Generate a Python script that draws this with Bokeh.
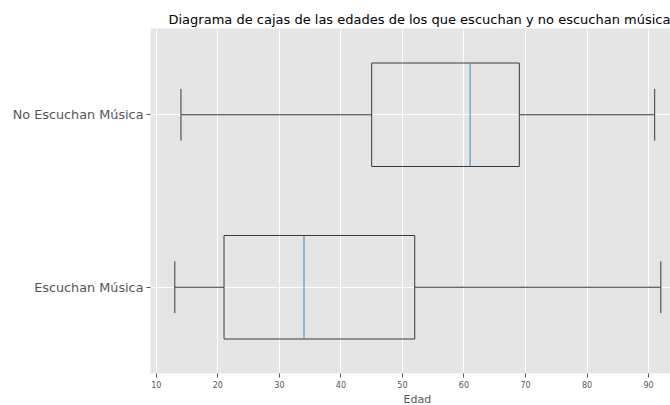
from bokeh.plotting import figure
from bokeh.models import FixedTicker, Title, Range1d
from bokeh.embed import file_html
from bokeh.resources import INLINE

# Age distributions summarised as box plot statistics
groups = ["Escuchan Música", "No Escuchan Música"]
positions = [1, 2]
whisker_low = [13, 14]
q1 = [21, 45]
median = [34, 61]
q3 = [52, 69]
whisker_high = [92, 91]

x_ticks = [10, 20, 30, 40, 50, 60, 70, 80, 90]

FONT = "DejaVu Sans"
BOX_W = 0.6
CAP_W = 0.3
LINE = "#3a3a3a"

p = figure(width=670, height=405, output_backend="svg", toolbar_location=None,
           x_range=Range1d(9.05, 93.57), y_range=Range1d(0.5, 2.5),
           min_border_left=150, min_border_right=0,
           min_border_top=28, min_border_bottom=30)
p.background_fill_color = "#E5E5E5"
p.border_fill_color = "white"
p.outline_line_color = None

# boxes
p.hbar(y=positions, left=q1, right=q3, height=BOX_W,
       fill_color=None, line_color=LINE, line_width=1)
# medians
p.segment(x0=median, x1=median,
          y0=[y - BOX_W / 2 for y in positions], y1=[y + BOX_W / 2 for y in positions],
          line_color="#348ABD", line_width=1)
# whiskers
p.segment(x0=whisker_low, x1=q1, y0=positions, y1=positions,
          line_color=LINE, line_width=1)
p.segment(x0=q3, x1=whisker_high, y0=positions, y1=positions,
          line_color=LINE, line_width=1)
# caps
p.segment(x0=whisker_low, x1=whisker_low,
          y0=[y - CAP_W / 2 for y in positions], y1=[y + CAP_W / 2 for y in positions],
          line_color=LINE, line_width=1)
p.segment(x0=whisker_high, x1=whisker_high,
          y0=[y - CAP_W / 2 for y in positions], y1=[y + CAP_W / 2 for y in positions],
          line_color=LINE, line_width=1)

# axes
p.xaxis.ticker = FixedTicker(ticks=x_ticks)
p.yaxis.ticker = FixedTicker(ticks=positions)
p.yaxis.major_label_overrides = {pos: g for pos, g in zip(positions, groups)}
for ax in (p.xaxis[0], p.yaxis[0]):
    ax.axis_line_color = None
    ax.major_tick_line_color = "#555555"
    ax.major_tick_out = 4
    ax.major_tick_in = 0
    ax.minor_tick_line_color = None
    ax.major_label_text_color = "#555555"
    ax.major_label_text_font = FONT
p.xaxis.major_label_text_font_size = "8px"
p.xaxis.major_label_standoff = 3
p.yaxis.major_label_text_font_size = "12.8px"
p.yaxis.major_label_standoff = 3

p.xgrid.grid_line_color = "white"
p.ygrid.grid_line_color = "white"
p.xgrid.grid_line_width = 1
p.ygrid.grid_line_width = 1

p.add_layout(Title(text="Edad", align="left", offset=253, text_font=FONT,
                   text_font_size="11px", text_color="#555555",
                   text_font_style="normal", standoff=0), "below")
p.add_layout(Title(text="Diagrama de cajas de las edades de los que escuchan y no escuchan música",
                   align="left", offset=18, text_font=FONT, text_font_size="13px",
                   text_color="black", text_font_style="normal", standoff=4), "above")

open("out.html", "w").write(file_html(p, INLINE))
